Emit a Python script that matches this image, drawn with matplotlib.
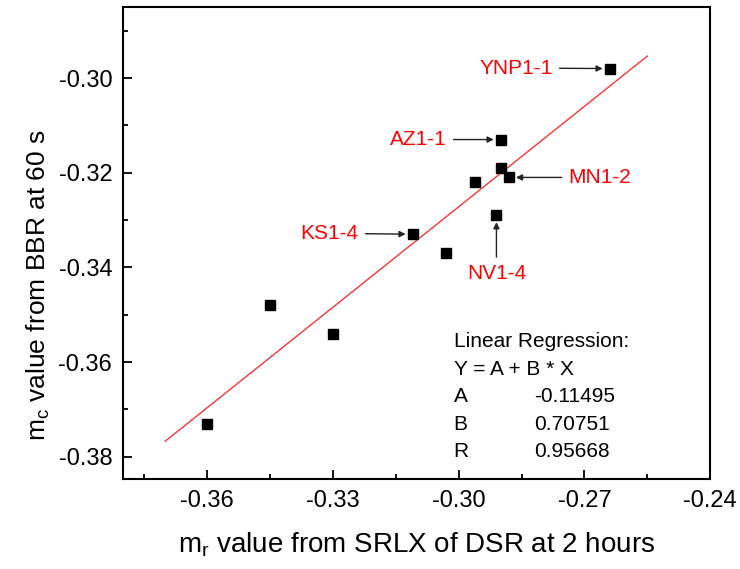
#!/usr/bin/env python3
''' m_c from BBR vs m_r from SRLX, with linear fit
'''

import matplotlib
matplotlib.use('Agg')
from matplotlib import pyplot
import numpy as np

#
# data
#

m_r = [-0.264, -0.290, -0.290, -0.288, -0.296, -0.291, -0.311, -0.303,
       -0.345, -0.330, -0.360]
m_c = [-0.298, -0.313, -0.319, -0.321, -0.322, -0.329, -0.333, -0.337,
       -0.348, -0.354, -0.373]

# fit parameters as reported
fit_A = -0.11495
fit_B = 0.70751
fit_R = 0.95668
fit_x = [-0.370, -0.255]

# labelled samples: name, point index, text position
tags = ['YNP1-1', 'AZ1-1', 'MN1-2', 'KS1-4', 'NV1-4']
tag_idx = [0, 1, 3, 6, 5]
tag_xy = [(-0.2776, -0.2979), (-0.3029, -0.313), (-0.2738, -0.321),
          (-0.3239, -0.3328), (-0.291, -0.3413)]
tag_ha = ['right', 'right', 'left', 'right', 'center']

xticks = [-0.36, -0.33, -0.30, -0.27, -0.24]
yticks = [-0.38, -0.36, -0.34, -0.32, -0.30]

#
# plot
#

pyplot.rcParams['font.family'] = ['Liberation Sans', 'DejaVu Sans']

fig = pyplot.figure(figsize=(7.4, 5.69), dpi=100)
ax = fig.add_axes([0.1666, 0.1582, 0.7932, 0.8295])

# regression line
fx = np.array(fit_x)
ax.plot(fx, fit_A + fit_B * fx, color='#ff2020', lw=0.9, zorder=2)

# points
ax.plot(m_r, m_c, ls='', marker='s', ms=7, color='k', zorder=3)

# sample labels with arrows
for name, i, (tx, ty), ha in zip(tags, tag_idx, tag_xy, tag_ha):
    ax.annotate(name, xy=(m_r[i], m_c[i]), xytext=(tx, ty),
        ha=ha, va='center', color='#ff0000', fontsize=15,
        arrowprops=dict(arrowstyle='-|>', color='#222222', lw=1,
                        mutation_scale=9, shrinkA=3, shrinkB=5))

# regression summary
txt_x = -0.3012
val_x = -0.2821
rows = [('Linear Regression:', None, -0.3556),
        ('Y = A + B * X', None, -0.3616),
        ('A', '{:.5f}'.format(fit_A), -0.3673),
        ('B', '{:.5f}'.format(fit_B), -0.3732),
        ('R', '{:.5f}'.format(fit_R), -0.3789)]
for lab, val, y in rows:
    ax.text(txt_x, y, lab, fontsize=15, va='center', ha='left')
    if val is not None:
        ax.text(val_x, y, val, fontsize=15, va='center', ha='left')

# axes
ax.set_xlim(-0.38, -0.24)
ax.set_ylim(-0.3847, -0.285)
ax.set_xticks(xticks)
ax.set_yticks(yticks)
ax.set_xticks(np.arange(-0.375, -0.24, 0.015), minor=True)
ax.set_yticks(np.arange(-0.37, -0.28, 0.02), minor=True)
ax.set_xticklabels(['{:.2f}'.format(v) for v in xticks])
ax.set_yticklabels(['{:.2f}'.format(v) for v in yticks])
ax.tick_params(which='both', direction='in', top=False, right=False,
               width=1.3, labelsize=17, pad=8)
ax.tick_params(which='major', length=6.5)
ax.tick_params(which='minor', length=3.5)
for s in ax.spines.values():
    s.set_linewidth(1.5)

ax.set_xlabel(r'm$_\mathregular{r}$ value from SRLX of DSR at 2 hours',
              fontsize=20, labelpad=13)
ax.set_ylabel(r'm$_\mathregular{c}$ value from BBR at 60 s', fontsize=19)
ax.yaxis.set_label_coords(-0.121, 0.411)

fig.savefig('out.png', dpi=100)
